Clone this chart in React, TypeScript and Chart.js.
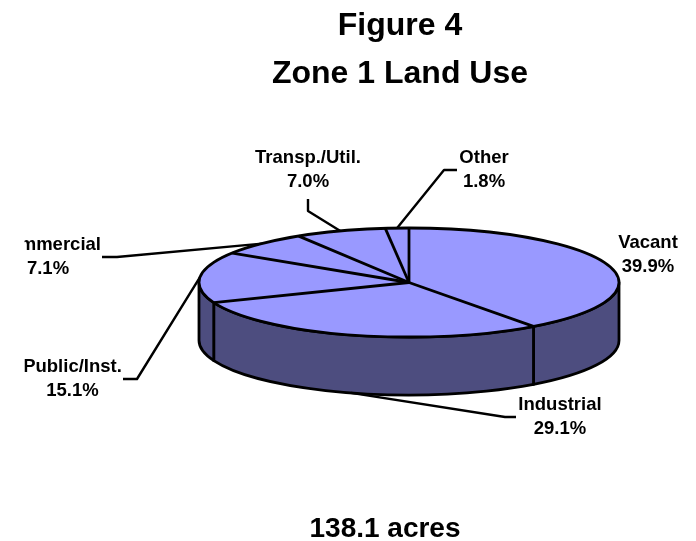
import React, { useEffect, useRef } from "react";
import { Chart, registerables } from "chart.js";

Chart.register(...registerables);

const categories = ["Vacant", "Industrial", "Public/Inst.", "Commercial", "Transp./Util.", "Other"];
const shares = [39.9, 29.1, 15.1, 7.1, 7.0, 1.8];
const titleLines = ["Figure 4", "Zone 1 Land Use"];
const totalLine = "138.1 acres";

const FONT = '"Liberation Sans", Arial, sans-serif';
const TOP = "#9999ff";
const SIDE = "#4d4d7f";
const PIE = { x: 409, y: 282.5, rx: 210, ry: 54.5, depth: 58 };

// Label placement: text centre, then the leader's path from the text to the slice.
const labelLayout: { x: number; y: number; leader: number[][]; onWall?: boolean }[] = [
  { x: 648, y: 243, leader: [] },
  { x: 560, y: 405, leader: [[516, 417], [505, 417]], onWall: true },
  { x: 72.5, y: 367, leader: [[123, 379], [137, 379]] },
  { x: 48, y: 245, leader: [[102, 257], [117, 257]] },
  { x: 308, y: 158, leader: [[308, 199], [308, 211]] },
  { x: 484, y: 158, leader: [[457, 170], [444, 170]] },
];

const piePlugin = {
  id: "flatPie",
  beforeDatasetsDraw(chart: any) {
    const ctx = chart.ctx;
    const arcs = chart.getDatasetMeta(0).data;
    ctx.save();
    ctx.lineWidth = 2.8;
    ctx.lineJoin = "round";
    ctx.strokeStyle = "#000";
    ctx.fillStyle = SIDE;
    arcs.forEach((arc: any) => {
      const s = Math.max(arc.startAngle, 0);
      const e = Math.min(arc.endAngle, Math.PI);
      if (e <= s) return;
      ctx.beginPath();
      ctx.ellipse(PIE.x, PIE.y, PIE.rx, PIE.ry, 0, s, e);
      ctx.ellipse(PIE.x, PIE.y + PIE.depth, PIE.rx, PIE.ry, 0, e, s, true);
      ctx.closePath();
      ctx.fill();
      ctx.stroke();
    });
    ctx.restore();
    const a = arcs[0];
    ctx.save();
    ctx.translate(PIE.x, PIE.y);
    ctx.scale(PIE.rx / a.outerRadius, PIE.ry / a.outerRadius);
    ctx.translate(-a.x, -a.y);
  },
  afterDatasetsDraw(chart: any) {
    const ctx = chart.ctx;
    ctx.restore();
    const arcs = chart.getDatasetMeta(0).data;
    ctx.save();
    ctx.strokeStyle = "#000";
    ctx.lineWidth = 2.8;
    ctx.lineJoin = "round";
    ctx.beginPath();
    ctx.ellipse(PIE.x, PIE.y, PIE.rx, PIE.ry, 0, 0, Math.PI * 2);
    ctx.stroke();
    arcs.forEach((arc: any) => {
      ctx.beginPath();
      ctx.moveTo(PIE.x, PIE.y);
      ctx.lineTo(PIE.x + PIE.rx * Math.cos(arc.startAngle), PIE.y + PIE.ry * Math.sin(arc.startAngle));
      ctx.stroke();
    });
    // leaders
    ctx.lineWidth = 2.4;
    arcs.forEach((arc: any, i: number) => {
      const layout = labelLayout[i];
      if (!layout.leader.length) return;
      const mid = (arc.startAngle + arc.endAngle) / 2;
      const ax = PIE.x + PIE.rx * Math.cos(mid);
      const ay = PIE.y + PIE.ry * Math.sin(mid) + (layout.onWall ? PIE.depth : 0);
      ctx.beginPath();
      layout.leader.forEach(([x, y], k) => (k ? ctx.lineTo(x, y) : ctx.moveTo(x, y)));
      ctx.lineTo(ax, ay);
      ctx.stroke();
    });
    ctx.fillStyle = "#000";
    ctx.textAlign = "center";
    ctx.textBaseline = "middle";
    ctx.font = `bold 28px ${FONT}`;
    ctx.fillText(totalLine, 385, 529);
    // labels (the left edge of the plot clips the text)
    ctx.beginPath();
    ctx.rect(24.5, 0, 696, 541);
    ctx.clip();
    ctx.font = `bold 18.5px ${FONT}`;
    categories.forEach((name, i) => {
      const l = labelLayout[i];
      ctx.fillText(name, l.x, l.y);
      ctx.fillText(`${shares[i].toFixed(1)}%`, l.x, l.y + 24);
    });
    ctx.restore();
  },
};

export default function App() {
  const ref = useRef<HTMLCanvasElement>(null);
  useEffect(() => {
    const chart = new Chart(ref.current as HTMLCanvasElement, {
      type: "pie",
      data: {
        labels: categories,
        datasets: [{ data: shares, backgroundColor: TOP, borderWidth: 0, clip: false } as any],
      },
      options: {
        animation: false,
        responsive: false,
        events: [],
        layout: { padding: { left: 104 } },
        plugins: {
          legend: { display: false },
          tooltip: { enabled: false },
          title: {
            display: true,
            text: titleLines,
            color: "#000",
            font: { family: FONT, size: 32, weight: "bold", lineHeight: 1.5 },
            padding: { top: 2, bottom: 10 },
          },
        },
      },
      plugins: [piePlugin],
    } as any);
    return () => chart.destroy();
  }, []);
  return (
    <div style={{ position: "absolute", left: 0, top: 0, width: 696, height: 541 }}>
      <canvas ref={ref} width={696} height={541} style={{ display: "block" }} />
    </div>
  );
}
